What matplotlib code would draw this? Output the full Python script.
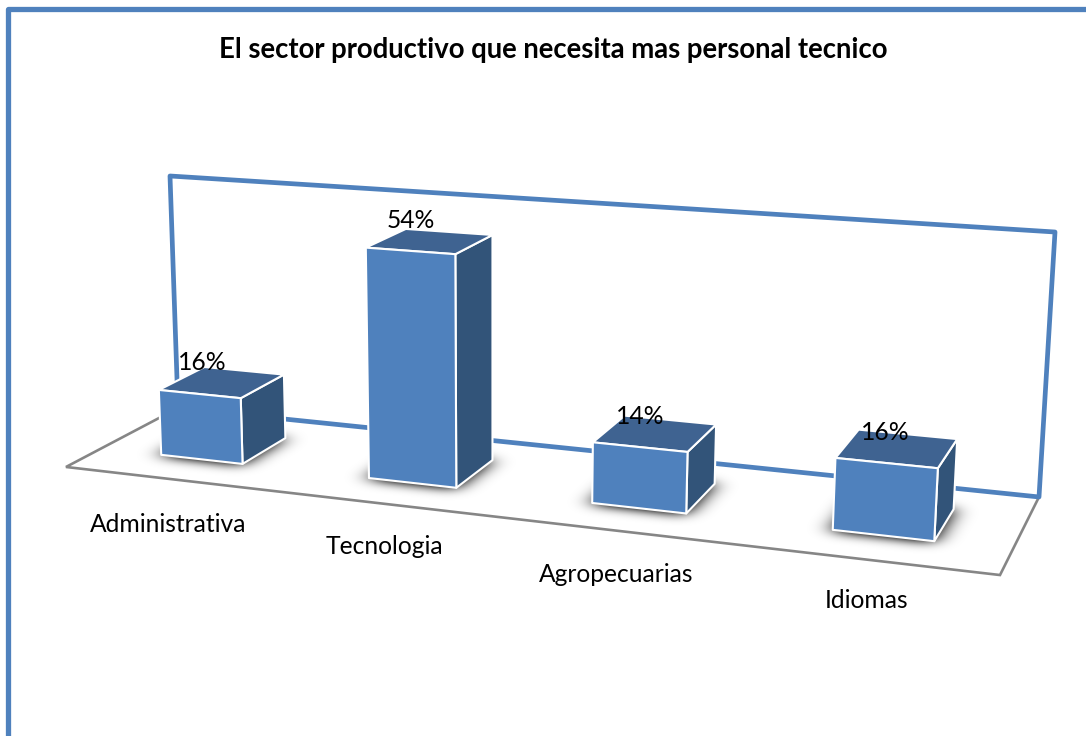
import numpy as np
import matplotlib
matplotlib.use('Agg')
import matplotlib.pyplot as plt
from matplotlib.patches import Polygon
from matplotlib.path import Path

# Chart data
title = 'El sector productivo que necesita mas personal tecnico'
categorias = ['Administrativa', 'Tecnologia', 'Agropecuarias', 'Idiomas']
valores = [16, 54, 14, 16]
eje_max = 60

# Where the texts sit, in pixels
pos_categorias = [(168, 524), (384, 546), (616, 575), (867, 600)]
pos_valores = [(202, 363), (411, 220), (640, 416), (885, 432)]

azul = '#4F81BD'
azul_lado = '#325479'
azul_arriba = '#3F6391'
gris = '#868686'

# Perspective of the 3D box: (u along categories, v depth, h height) -> pixel
mundo = [(0, 0, 0), (1, 0, 0), (1, 1, 0), (0, 1, 0), (0, 1, 1), (1, 1, 1)]
pixel = [(66, 467), (1000, 575), (1039, 497), (178, 408), (170, 176), (1055, 232)]

filas = []
for (u, v, h), (px, py) in zip(mundo, pixel):
    filas.append([u, v, h, 1, 0, 0, 0, 0, -px * u, -px * v, -px * h, -px])
    filas.append([0, 0, 0, 0, u, v, h, 1, -py * u, -py * v, -py * h, -py])
P = np.linalg.svd(np.array(filas, dtype=float))[2][-1].reshape(3, 4)


def proyectar(u, v, valor=0):
    x, y, w = P @ np.array([u, v, valor / eje_max, 1.0])
    return x / w, y / w


def desenfocar(img, sx, sy):
    # gaussian blur, one axis at a time
    for eje, s in ((1, sx), (0, sy)):
        t = np.arange(-3 * s, 3 * s + 1)
        g = np.exp(-t ** 2 / (2.0 * s ** 2))
        img = np.apply_along_axis(lambda f: np.convolve(f, g / g.sum(), mode='same'), eje, img)
    return img


fig = plt.figure(figsize=(10.86, 7.36), dpi=100)
ax = fig.add_axes([0, 0, 1, 1])

fuente = 'Lato'

# Outer frame
ax.plot([8, 8, 1084], [736, 9, 9], color=azul, lw=3.8, solid_joinstyle='round', zorder=1)

# Back wall and floor
esq = [(0, 1, 0), (0, 1, eje_max), (1, 1, eje_max), (1, 1, 0), (0, 1, 0)]
xy = np.array([proyectar(*e) for e in esq])
ax.plot(xy[:, 0], xy[:, 1], color=azul, lw=3.4, solid_joinstyle='round', zorder=3)
piso = [(0, 1), (0, 0), (1, 0), (1, 1)]
xy = np.array([proyectar(*e) for e in piso])
ax.plot(xy[:, 0], xy[:, 1], color=gris, lw=1.9, solid_joinstyle='miter', zorder=2)

# Bars
ancho = 0.1
v0, v1 = 0.30, 0.72
xx, yy = np.meshgrid(np.arange(1086) + 0.5, np.arange(736) + 0.5)
rejilla = np.column_stack([xx.ravel(), yy.ravel()])
mascara = np.zeros(xx.shape)
for i, valor in enumerate(valores):
    c = (i + 0.5) / 4
    u0, u1 = c - ancho / 2, c + ancho / 2

    base = [proyectar(u0, v0 - 0.015), proyectar(u1, v0 - 0.015), proyectar(u1, v1), proyectar(u0, v1)]
    mascara += Path(base).contains_points(rejilla).reshape(xx.shape)

    lado = [proyectar(u1, v0), proyectar(u1, v1), proyectar(u1, v1, valor), proyectar(u1, v0, valor)]
    arriba = [proyectar(u0, v0, valor), proyectar(u1, v0, valor), proyectar(u1, v1, valor), proyectar(u0, v1, valor)]
    frente = [proyectar(u0, v0), proyectar(u1, v0), proyectar(u1, v0, valor), proyectar(u0, v0, valor)]
    ax.add_patch(Polygon(lado, closed=True, fc=azul_lado, ec='white', lw=1.5, joinstyle='round', zorder=5))
    ax.add_patch(Polygon(arriba, closed=True, fc=azul_arriba, ec='white', lw=1.5, joinstyle='round', zorder=5))
    ax.add_patch(Polygon(frente, closed=True, fc=azul, ec='white', lw=1.5, joinstyle='round', zorder=6))

    ax.text(*pos_valores[i], f'{valor}%', fontsize=17.7, family=fuente, color='black',
            ha='center', va='center', zorder=7)
    ax.text(*pos_categorias[i], categorias[i], fontsize=17.7, family=fuente, color='black',
            ha='center', va='center', zorder=7)

# soft shadow on the floor, under the bars
sombra = np.zeros(xx.shape + (4,))
sombra[..., 3] = np.clip(desenfocar(mascara, 11, 5) * 1.25, 0, 0.75)
ax.imshow(sombra, extent=(0, 1086, 736, 0), aspect='auto', interpolation='nearest', zorder=4)

ax.text(553, 50, title, fontsize=19.8, family=fuente, fontweight='bold', color='black',
        ha='center', va='center', zorder=7)

ax.set_xlim(0, 1086)
ax.set_ylim(736, 0)
ax.axis('off')

plt.savefig('out.png', dpi=100)
